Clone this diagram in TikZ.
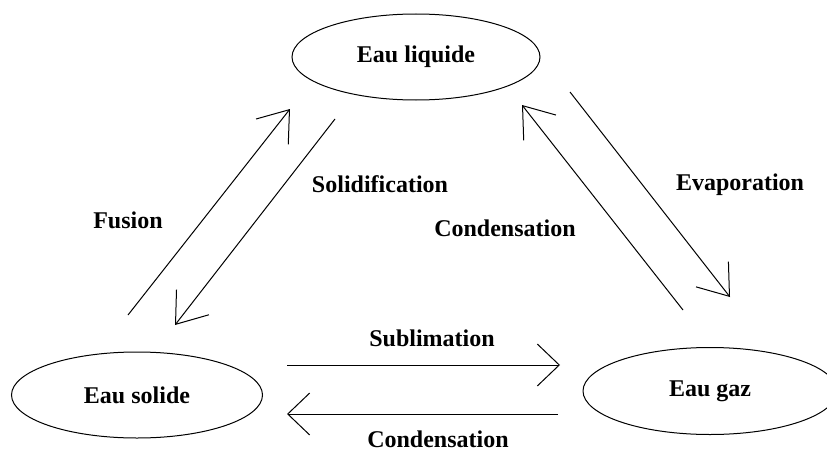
\documentclass[tikz,border=0pt]{standalone}
\usepackage{fontspec}
\setmainfont{Liberation Serif}
\usetikzlibrary{shapes.geometric,arrows.meta}
\begin{document}
\begin{tikzpicture}[x=1pt,y=-1pt,
  state/.style={draw,ellipse,line width=1pt,inner sep=0pt,font=\fontsize{24}{28}\selectfont\bfseries},
  lbl/.style={anchor=base,inner sep=0pt,font=\fontsize{24}{28}\selectfont\bfseries},
  darr/.style={line width=1pt,-{Straight Barb[length=28pt,width=41pt,line width=1pt]}},
  harr/.style={line width=1pt,-{Straight Barb[length=22pt,width=42pt,line width=1pt]}}]
\useasboundingbox (0,0) rectangle (827,452);
\node[state,minimum width=248pt,minimum height=86pt] (liq) at (416,57) {Eau liquide};
\node[state,minimum width=251pt,minimum height=86pt] (sol) at (137,395) {Eau solide};
\node[state,minimum width=254pt,minimum height=87pt] (gaz) at (710,391) {Eau gaz};
\coordinate (f1) at (128,315); \coordinate (f2) at (290,109);
\coordinate (s1) at (335,119); \coordinate (s2) at (175,325);
\coordinate (c1) at (683,310); \coordinate (c2) at (522,105);
\coordinate (e1) at (570,92);  \coordinate (e2) at (730,297);
\coordinate (b1) at (287,365); \coordinate (b2) at (560,365);
\coordinate (d1) at (558,414); \coordinate (d2) at (287,414);
\draw[darr] (f1) -- (f2);
\draw[darr] (s1) -- (s2);
\draw[darr] (c1) -- (c2);
\draw[darr] (e1) -- (e2);
\draw[harr] (b1) -- (b2);
\draw[harr] (d1) -- (d2);
\node[lbl] (lf) at (128,228) {Fusion};
\node[lbl] (ls) at (380,192) {Solidification};
\node[lbl] (lc) at (505,236) {Condensation};
\node[lbl] (le) at (740,190) {Evaporation};
\node[lbl] (lb) at (432,346) {Sublimation};
\node[lbl] (ld) at (438,447) {Condensation};
\end{tikzpicture}
\end{document}
